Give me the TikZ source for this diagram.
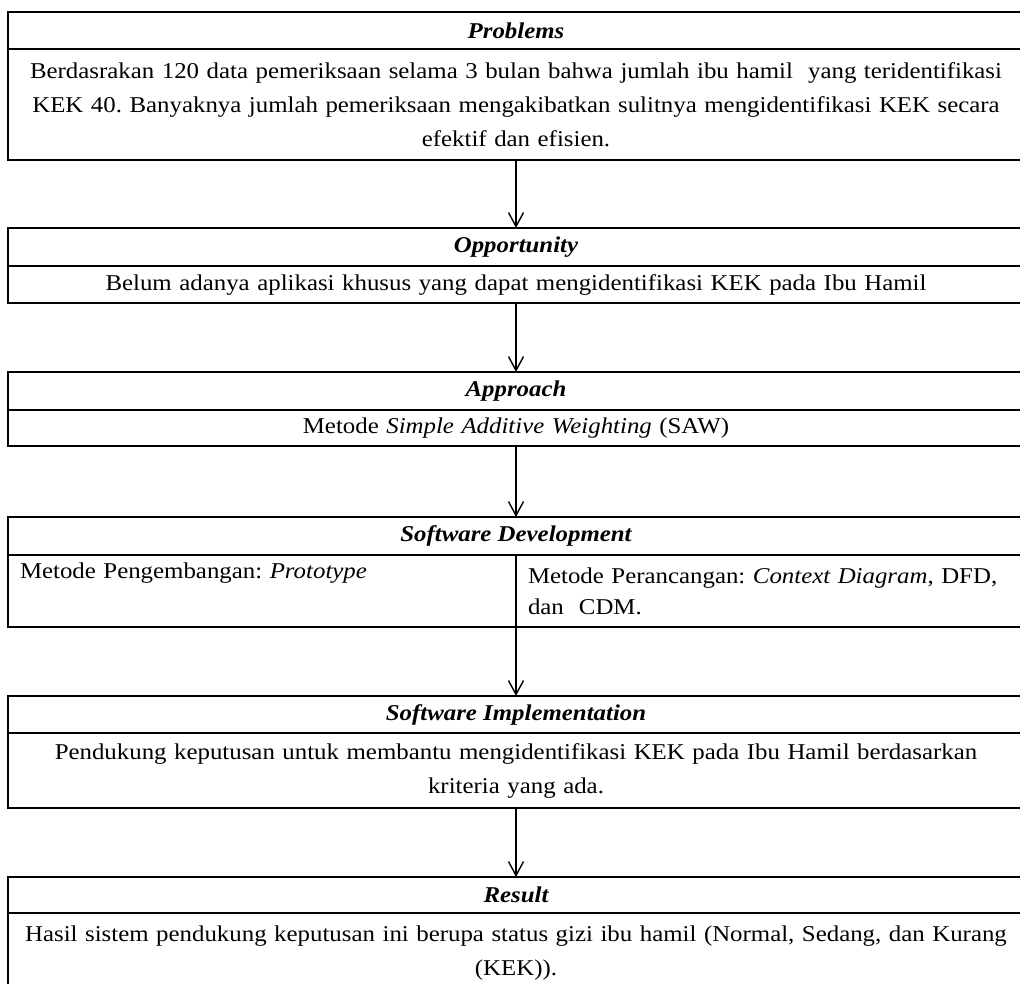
\documentclass[tikz,border=0pt]{standalone}
\usepackage{fontspec}
\setmainfont{Liberation Serif}[FakeStretch=1.1]
\usetikzlibrary{arrows.meta,positioning}
\frenchspacing

\tikzset{
  head/.style={draw, line width=0.9pt, outer sep=0pt, inner sep=0pt,
    minimum width=508pt, font=\fontsize{11.3pt}{17pt}\selectfont\bfseries\itshape},
  body/.style={draw, line width=0.9pt, outer sep=0pt, inner xsep=4pt, inner ysep=1pt,
    minimum width=508pt, text width=500pt, align=center,
    font=\fontsize{11.3pt}{17pt}\selectfont},
  cell/.style={draw, line width=0.9pt, outer sep=0pt, inner xsep=6pt, inner ysep=1pt,
    minimum width=254pt, text width=242pt, align=left,
    font=\fontsize{11.3pt}{15.5pt}\selectfont},
  flow/.style={line width=0.7pt, -{Straight Barb[length=7pt,width=7.5pt]}}
}

\begin{document}
\begin{tikzpicture}[x=0.5pt,y=-0.5pt]
    \useasboundingbox (0,0) rectangle (1020,983);
    \clip (0,0) rectangle (1020,983);
    \node [head, anchor=north west, minimum height=18.5pt] (probhead) at (8,12) {Problems};
    \node [body, below=0pt of probhead, minimum height=55.5pt] (probbody)
      {Berdasrakan 120 data pemeriksaan selama 3 bulan bahwa jumlah ibu hamil\ \ yang teridentifikasi\\
       KEK 40. Banyaknya jumlah pemeriksaan mengakibatkan sulitnya mengidentifikasi KEK secara\\
       efektif dan efisien.};
    \node [head, anchor=north west, minimum height=19pt] (opphead) at (8,228) {Opportunity};
    \node [body, below=0pt of opphead, minimum height=18.5pt] (oppbody)
      {Belum adanya aplikasi khusus yang dapat mengidentifikasi KEK pada Ibu Hamil};
    \node [head, anchor=north west, minimum height=19pt] (apphead) at (8,372) {Approach};
    \node [body, below=0pt of apphead, minimum height=18pt] (appbody)
      {Metode \textit{Simple Additive Weighting} (SAW)};
    \node [head, anchor=north west, minimum height=19pt] (sdhead) at (8,517) {Software Development};
    \node [cell, anchor=north west, minimum height=36pt] (sdleft) at (sdhead.south west)
      {Metode Pengembangan: \textit{Prototype}\\ \strut};
    \node [cell, right=0pt of sdleft, minimum height=36pt] (sdright)
      {Metode Perancangan: \textit{Context Diagram}, DFD,\\ dan\ \ CDM.};
    \node [head, anchor=north west, minimum height=18.5pt] (sihead) at (8,696) {Software Implementation};
    \node [body, below=0pt of sihead, minimum height=37.5pt] (sibody)
      {Pendukung keputusan untuk membantu mengidentifikasi KEK pada Ibu Hamil berdasarkan\\
       kriteria yang ada.};
    \node [head, anchor=north west, minimum height=18pt] (reshead) at (8,877) {Result};
    \node [body, below=0pt of reshead, minimum height=40pt] (resbody)
      {Hasil sistem pendukung keputusan ini berupa status gizi ibu hamil (Normal, Sedang, dan Kurang\\
       (KEK)).};
    \draw [flow] (probbody) -- (opphead);
    \draw [flow] (oppbody) -- (apphead);
    \draw [flow] (appbody) -- (sdhead);
    \draw [flow] (sdleft.south east) -- (sihead);
    \draw [flow] (sibody) -- (reshead);
\end{tikzpicture}
\end{document}
